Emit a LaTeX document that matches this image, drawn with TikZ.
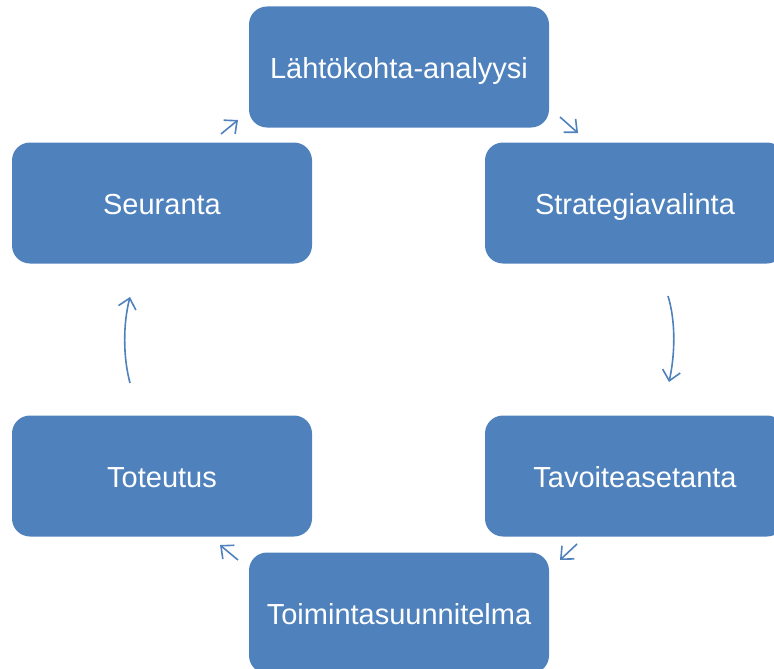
\documentclass[tikz,border=0pt]{standalone}
\usepackage{fontspec}
\setmainfont{Liberation Sans}
\usetikzlibrary{arrows.meta}

\definecolor{stepblue}{HTML}{4F81BD}

\tikzset{
    phase/.style={rounded corners=18pt, fill=stepblue, text=white,
        minimum width=300pt, minimum height=121pt, inner sep=0pt,
        text height=22pt, text depth=0pt,
        font=\fontsize{29}{34}\selectfont},
    cycle arrow/.style={stepblue, line width=1.6pt,
        -{Straight Barb[length=10pt, width=18pt, line width=1.6pt]}}
}

\begin{document}
\begin{tikzpicture}[x=1pt, y=-1pt]
    % Picture area (pixels of the reference, y downwards)
    \useasboundingbox (0,0) rectangle (774,669);

    % Phases of the cycle
    \node[phase] (lahto)    at (399,67)  {Lähtökohta-analyysi};
    \node[phase] (strategia) at (635,203) {Strategiavalinta};
    \node[phase] (tavoite)  at (635,476) {Tavoiteasetanta};
    \node[phase] (toiminta) at (399,613) {Toimintasuunnitelma};
    \node[phase] (toteutus) at (162,476) {Toteutus};
    \node[phase] (seuranta) at (162,203) {Seuranta};

    % End points of the arrows in the gaps between the phases
    \coordinate (a1) at (560,117);  \coordinate (b1) at (578,133);
    \coordinate (a2) at (668,296);  \coordinate (b2) at (669,382);
    \coordinate (a3) at (577,544);  \coordinate (b3) at (560,560);
    \coordinate (a4) at (238,560);  \coordinate (b4) at (220,545);
    \coordinate (a5) at (130,383);  \coordinate (b5) at (130,297);
    \coordinate (a6) at (221,134);  \coordinate (b6) at (238,120);

    % Arrows round the cycle
    \draw[cycle arrow] (a1) -- (b1);
    \draw[cycle arrow] (a2) .. controls (676,322) and (675,355) .. (b2);
    \draw[cycle arrow] (a3) -- (b3);
    \draw[cycle arrow] (a4) -- (b4);
    \draw[cycle arrow] (a5) .. controls (123,357) and (123,324) .. (b5);
    \draw[cycle arrow] (a6) -- (b6);
\end{tikzpicture}
\end{document}
